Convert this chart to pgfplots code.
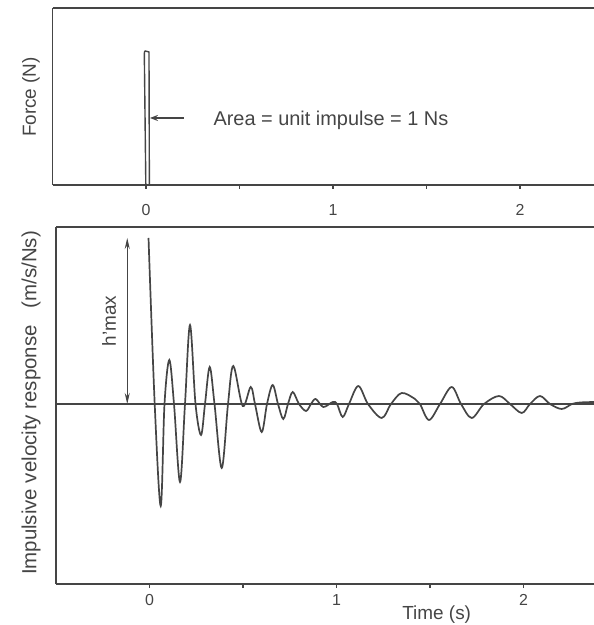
\documentclass[border=0pt]{standalone}
\usepackage{fontspec}
\setmainfont{Liberation Sans}
\usepackage{pgfplots}
\pgfplotsset{compat=1.18}
\usetikzlibrary{arrows.meta}
\definecolor{ink}{gray}{0.27}
\begin{document}
\begin{tikzpicture}[x=1bp,y=1bp]
\pgfplotsset{
  common/.style={
    scale only axis, anchor=south west,
    axis x line=bottom, axis y line=left,
    axis line style={-, ink, line width=1.2bp},
    ytick=\empty, xtick={0,0.5,1,1.5,2}, xticklabels={0,,1,,2},
    tick align=outside, major tick length=4bp,
    every tick/.style={ink, line width=1.2bp},
    tick label style={font=\fontsize{16}{18}\selectfont, text=ink},
    /pgf/number format/assume math mode=true,
    xmin=-0.5, enlargelimits=false,
  }
}
% ---------------- top: force pulse ----------------
\begin{axis}[common, at={(52.5bp,440bp)}, width=541.5bp, height=177bp,
  xmax=2.3957, ymin=0, ymax=177,
  xticklabel style={anchor=center, yshift=-21bp}]
\draw[ink, line width=1.2bp] (rel axis cs:0,1) -- (rel axis cs:1,1);
\addplot[ink, line width=1.4bp] coordinates {
  (-0.001,0) (-0.009,131) (-0.008,133) (-0.004,134) (0.016,133) (0.018,0)};
\draw[ink, line width=1.4bp, -{Stealth[length=8bp,width=6bp]}] (axis cs:0.203,67) -- (axis cs:0.021,67);
\end{axis}
% ---------------- bottom: impulsive velocity response ----------------
\begin{axis}[common, at={(56bp,41bp)}, width=538bp, height=357bp,
  xmax=2.377, ymin=-180, ymax=177,
  xticklabel style={anchor=center, yshift=-12bp}]
\draw[ink, line width=1.2bp] (rel axis cs:0,1) -- (rel axis cs:1,1);
\addplot[ink, line width=1.2bp] coordinates {(-0.5,0) (2.377,0)};
\addplot[ink, line width=1.7bp, smooth, tension=0.55] coordinates {
(-0.0053,166) (0.0278,0) (0.0599,-102) (0.0802,0) (0.1059,44) (0.1310,0)
(0.1631,-78) (0.1898,0) (0.2166,79) (0.2460,0) (0.2754,-31) (0.2968,0)
(0.3219,37) (0.3476,0) (0.3861,-64) (0.4198,0) (0.4481,38) (0.4984,-2)
(0.5412,17) (0.5642,0) (0.6000,-28) (0.6283,0) (0.6588,19) (0.6872,0)
(0.7155,-15) (0.7406,0) (0.7658,12) (0.7995,0) (0.8369,-7) (0.8636,0)
(0.8888,5) (0.9294,-3) (0.9797,2) (1.0027,0) (1.0332,-13) (1.0668,0)
(1.1166,18) (1.1684,0) (1.2417,-14) (1.2914,0) (1.3487,11) (1.4198,5)
(1.4465,0) (1.4947,-16) (1.5535,0) (1.6160,17) (1.6658,0) (1.7230,-14)
(1.7888,0) (1.8690,8) (1.9278,0) (1.9904,-9) (2.0348,0) (2.0882,8)
(2.1417,0) (2.2043,-5) (2.2594,0) (2.3021,1.5) (2.3770,2)};
\draw[ink, line width=0.9bp, {Stealth[length=11bp,width=5bp]}-{Stealth[length=11bp,width=5bp]}]
  (axis cs:-0.119,0) -- (axis cs:-0.119,166);
\end{axis}
% ---------------- labels ----------------
\node[rotate=90, text=ink, font=\fontsize{19}{22}\selectfont] at (31,528) {Force (N)};
\node[rotate=90, text=ink, font=\fontsize{20.5}{24}\selectfont] at (31,222) {Impulsive velocity response\ \ \ (m/s/Ns)};
\node[rotate=90, text=ink, font=\fontsize{19}{22}\selectfont] at (109,304) {h'max};
\node[anchor=base west, text=ink, font=\fontsize{20}{24}\selectfont] at (210,499) {Area = unit impulse = 1 Ns};
\node[anchor=base, text=ink, font=\fontsize{19}{22}\selectfont] at (436.7,5) {Time (s)};
\pgfresetboundingbox
\path[use as bounding box] (0,0) rectangle (594,625);
\end{tikzpicture}
\end{document}
